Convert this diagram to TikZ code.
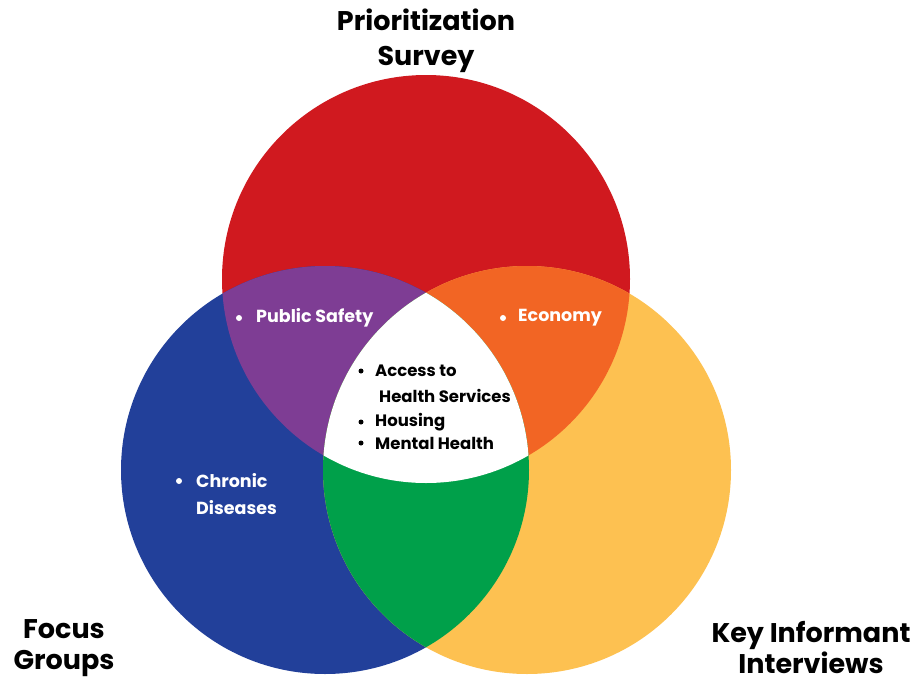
\documentclass[tikz,border=0pt]{standalone}
\usepackage{fontspec}
\setmainfont{Poppins}
\definecolor{vred}{HTML}{D0191F}
\definecolor{vblue}{HTML}{22409A}
\definecolor{vyellow}{HTML}{FDC151}
\definecolor{vpurple}{HTML}{7E3D94}
\definecolor{vorange}{HTML}{F26524}
\definecolor{vgreen}{HTML}{00A04A}
\begin{document}
\begin{tikzpicture}[x=1pt,y=-1pt,
  title/.style={font=\bfseries\fontsize{27}{35}\selectfont, align=center, inner sep=0pt},
  lowtitle/.style={title, font=\bfseries\fontsize{27}{31}\selectfont},
  item/.style={font=\bfseries\fontsize{16.5}{18}\selectfont, anchor=west, inner sep=0pt},
  whiteitem/.style={item, font=\bfseries\fontsize{17.5}{19}\selectfont, text=white},
  dot/.style={circle, fill=#1, inner sep=0pt, minimum size=6pt}]
\useasboundingbox (0,0) rectangle (916,683);
\def\rad{204}
\coordinate (R) at (426,279);
\coordinate (B) at (325,470);
\coordinate (Y) at (527,470);
% the three sets
\fill[vred] (R) circle[radius=\rad];
\fill[vblue] (B) circle[radius=\rad];
\fill[vyellow] (Y) circle[radius=\rad];
% pairwise overlaps
\begin{scope}
  \clip (R) circle[radius=\rad];
  \fill[vpurple] (B) circle[radius=\rad];
  \fill[vorange] (Y) circle[radius=\rad];
\end{scope}
\begin{scope}
  \clip (B) circle[radius=\rad];
  \fill[vgreen] (Y) circle[radius=\rad];
\end{scope}
% common core
\begin{scope}
  \clip (R) circle[radius=\rad];
  \clip (B) circle[radius=\rad];
  \fill[white] (Y) circle[radius=\rad];
\end{scope}
% set titles
\node[title] (t1) at (426,41) {Prioritization\\Survey};
\node[lowtitle] (t2) at (64,648) {Focus\\Groups};
\node[lowtitle] (t3) at (811,648) {Key Informant\\Interviews};
% region items
\node[dot=white] (d1) at (239,318) {};
\node[whiteitem] (ps) at (256,318) {Public Safety};
\node[dot=white] (d2) at (503,318) {};
\node[whiteitem] (ec) at (518,318) {Economy};
\node[dot=white] (d3) at (179,481) {};
\node[whiteitem] (cd1) at (196,481) {Chronic};
\node[whiteitem] (cd2) at (196,508) {Diseases};
\node[dot=black, minimum size=5pt] (d4) at (361,371) {};
\node[item] (ac1) at (375,371) {Access to};
\node[item] (ac2) at (379,396) {Health Services};
\node[dot=black, minimum size=5pt] (d5) at (361,422) {};
\node[item] (ho) at (375,422) {Housing};
\node[dot=black, minimum size=5pt] (d6) at (361,443) {};
\node[item] (mh) at (375,443) {Mental Health};
\end{tikzpicture}
\end{document}
